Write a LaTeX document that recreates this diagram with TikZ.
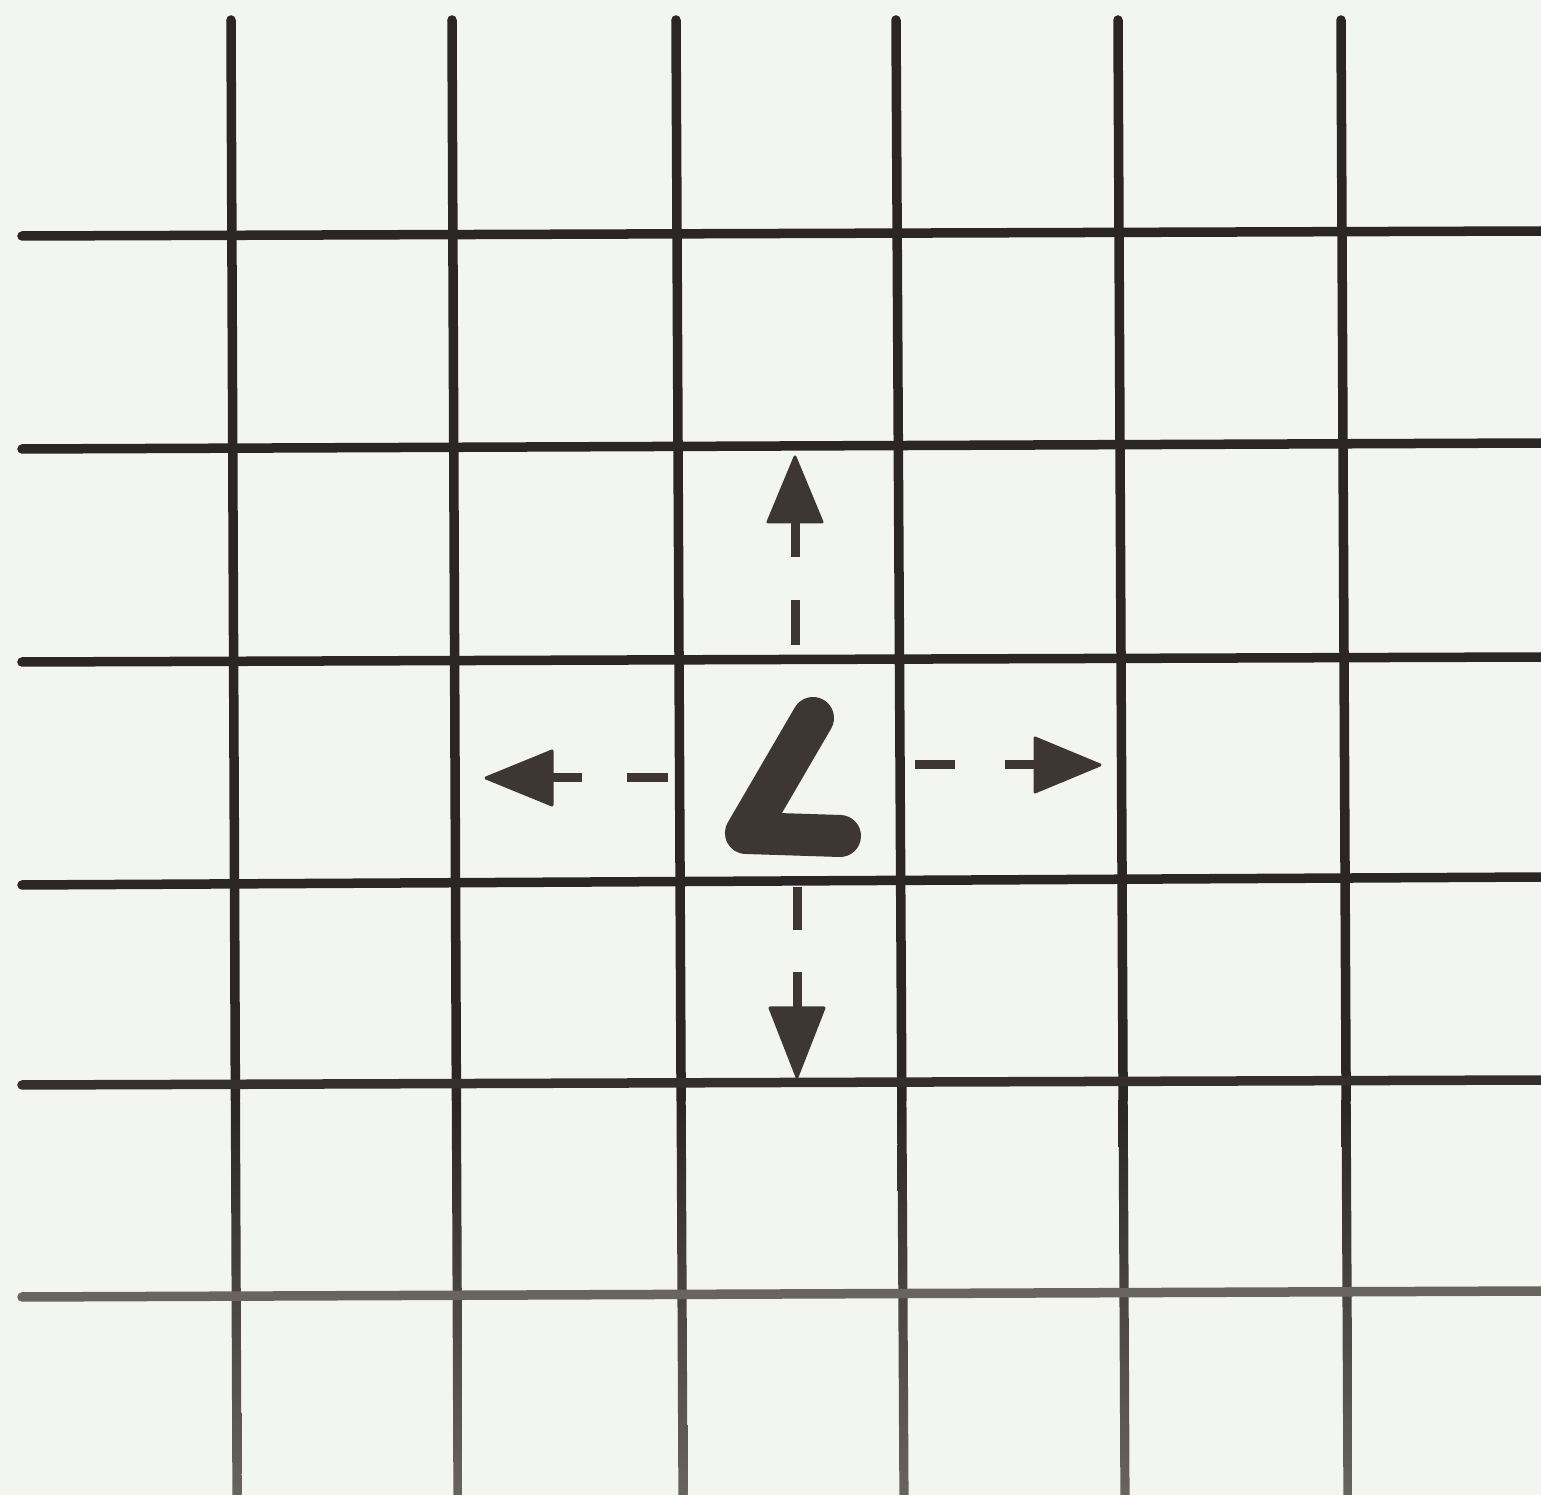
\documentclass[tikz,border=0pt]{standalone}
\usetikzlibrary{calc}
\definecolor{paper}{HTML}{F3F5F1}
\definecolor{ink}{HTML}{2B2525}
\definecolor{inkgray}{HTML}{6A6460}
\definecolor{shapec}{HTML}{3D3633}
\tikzset{
  gridline/.style={line width=0.095cm, ink, line cap=round},
  dashseg/.style={line width=0.09cm, shapec},
  headtri/.style={fill=shapec, draw=shapec, line width=0.03cm, line join=round},
}
\begin{document}
\begin{tikzpicture}[x=0.01cm, y=-0.01cm]
\fill[paper] (0,0) rectangle (1541,1495);
\useasboundingbox (0,0) rectangle (1541,1495);
% vertical lines: top x, bottom x
\foreach \xt/\xb in {231/237, 452/458, 676/683, 896/904, 1118/1125, 1341/1348} {
  \coordinate (vt) at (\xt,20);
  \coordinate (vm) at ({\xt+(\xb-\xt)*(1100-20)/(1495-20)},1100);
  \coordinate (vb) at (\xb,1500);
  \draw[gridline] (vt) -- (vm);
  \shade[top color=ink, bottom color=inkgray]
    ($(vm)+(-4.6,0)$) -- ($(vm)+(4.6,0)$) -- ($(vb)+(4.6,0)$) -- ($(vb)+(-4.6,0)$) -- cycle;
}
% horizontal lines: left y, right y
\foreach \yl/\yr/\c in {236/231/ink, 449/443/ink, 662/657/ink, 885/877/ink, 1085/1080/ink!85!inkgray, 1297/1291/inkgray} {
  \coordinate (hl) at (22,\yl);
  \coordinate (hr) at (1545,\yr);
  \draw[gridline, \c] (hl) -- (hr);
}
% L shape
\coordinate (Ltop) at (813,718);
\coordinate (Lcorner) at (746,833);
\coordinate (Lend) at (840,836);
\draw[shapec, line width=0.42cm, line cap=round, line join=round] (Ltop) -- (Lcorner) -- (Lend);
% up arrow
\coordinate (uA) at (795,457);
\draw[dashseg] (795,645) -- (795,600);
\draw[dashseg] (795,557) -- (795,520);
\draw[headtri] (uA) -- (768,522) -- (822,522) -- cycle;
% down arrow
\coordinate (dA) at (797,1077);
\draw[dashseg] (797,887) -- (797,930);
\draw[dashseg] (797,972) -- (797,1010);
\draw[headtri] (dA) -- (770,1008) -- (824,1008) -- cycle;
% left arrow
\coordinate (lA) at (486,778);
\draw[dashseg] (668,778) -- (627,778);
\draw[dashseg] (582,778) -- (550,778);
\draw[headtri] (lA) -- (552,751) -- (552,805) -- cycle;
% right arrow
\coordinate (rA) at (1100,765);
\draw[dashseg] (915,765) -- (955,765);
\draw[dashseg] (1005,765) -- (1036,765);
\draw[headtri] (rA) -- (1035,738) -- (1035,792) -- cycle;
\end{tikzpicture}
\end{document}
